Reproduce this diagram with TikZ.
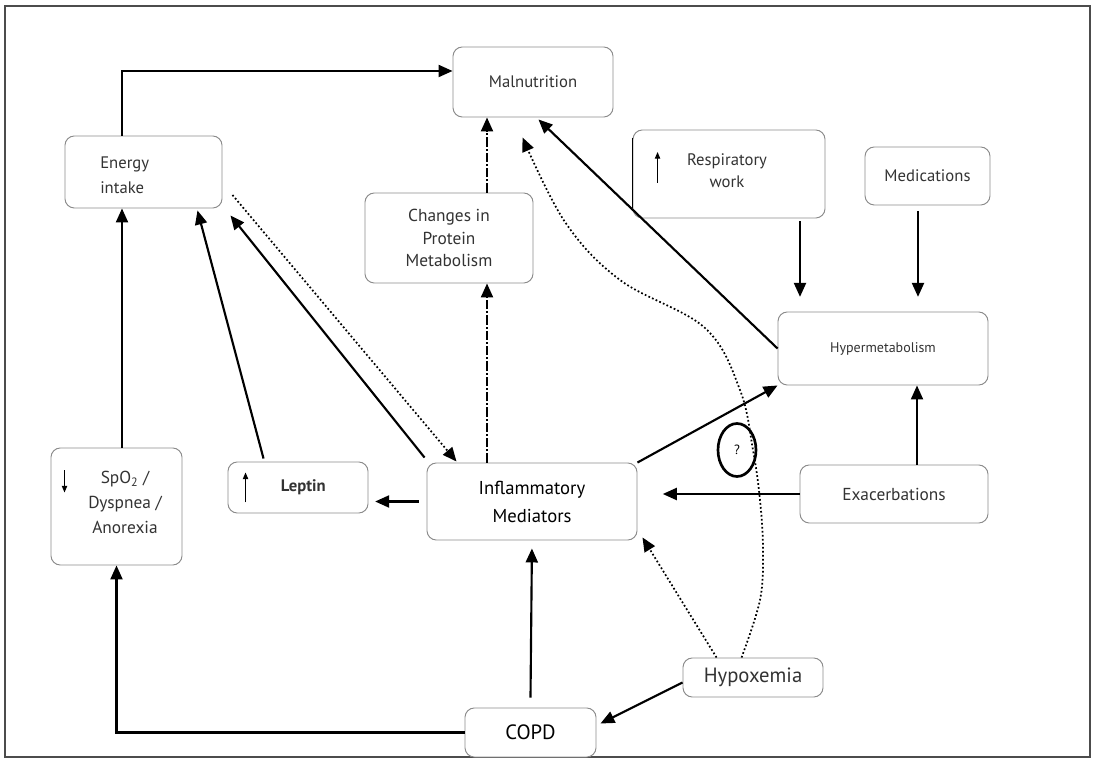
\documentclass[tikz,border=0pt]{standalone}
\usepackage{fontspec}
\setmainfont{PT Sans}
\usetikzlibrary{arrows.meta,calc,shapes.geometric}

\begin{document}
\begin{tikzpicture}[x=0.75pt,y=-0.75pt,
  box/.style={draw=black!45, line width=0.7pt, rounded corners=7pt, fill=white,
              inner sep=2pt, align=center, text=black!80,
              font=\fontsize{12.5}{17}\selectfont},
  txt/.style={inner sep=0pt, text=black!80, font=\fontsize{12.5}{18.75}\selectfont},
  arr/.style={line width=1.6pt, -{Triangle[length=10.5pt,width=9pt]}},
  dotarr/.style={line width=1.3pt, dash pattern=on 1.3pt off 1.7pt,
                 -{Triangle[length=10.5pt,width=9pt]}},
  dasharr/.style={line width=1.6pt, dash pattern=on 7pt off 1.5pt on 1.5pt off 1.5pt,
                  -{Triangle[length=10.5pt,width=9pt]}},
  small/.style={line width=0.8pt, -{Triangle[length=5pt,width=4pt]}},
]
\useasboundingbox (0,0) rectangle (1093,762);
\fill[white] (0,0) rectangle (1093,762);
\draw[black!70, line width=0.9pt] (5,6) rectangle (1090,757);

% ---- boxes ----
\node[box, minimum width=120pt, minimum height=52.5pt] (mal) at (533,82) {Malnutrition};
\node[box, minimum width=117.75pt, minimum height=54pt] (energy) at (143.5,172) {};
\node[txt, align=left, anchor=west] (energyt) at (100,175.5) {Energy\\intake};
\node[box, minimum width=144pt, minimum height=66pt] (resp) at (729,174) {};
\node[txt, align=center, font=\fontsize{12.5}{16.5}\selectfont] (respt) at (727,171) {Respiratory\\work};
\node[box, minimum width=93.75pt, minimum height=43.5pt] (med) at (927.5,176) {Medications};
\node[box, minimum width=126pt, minimum height=67.5pt, font=\fontsize{13}{17}\selectfont] (changes) at (449,238) {Changes in\\Protein\\Metabolism};
\node[box, minimum width=157.5pt, minimum height=54.75pt, font=\fontsize{10.5}{13}\selectfont] (hyper) at (883,348.5) {Hypermetabolism};
\node[box, minimum width=98.25pt, minimum height=87.75pt] (spo2) at (116.5,506.5) {};
\node[txt, align=center, font=\fontsize{13}{18.75}\selectfont] (spo2t) at (125,502) {SpO\textsubscript{2} /\\Dyspnea /\\Anorexia};
\node[box, minimum width=105pt, minimum height=38.25pt, font=\fontsize{12.5}{15}\bfseries] (leptin) at (298,487.5) {\hspace{8pt}Leptin};
\node[box, minimum width=157.5pt, minimum height=57.75pt, text=black, font=\fontsize{14}{21}\selectfont] (inflam) at (532,501.5) {Inflammatory\\Mediators};
\node[box, minimum width=141pt, minimum height=43.5pt, font=\fontsize{13}{16}\selectfont] (exac) at (894,494) {Exacerbations};
\node[box, minimum width=105pt, minimum height=29.25pt, font=\fontsize{15.5}{18}\selectfont] (hypox) at (753,677.5) {Hypoxemia};
\node[box, minimum width=98.25pt, minimum height=36.75pt, text=black, font=\fontsize{15.5}{18}\selectfont] (copd) at (530.5,732.5) {COPD};
\node[ellipse, draw, line width=2pt, minimum width=28.5pt, minimum height=39.75pt,
      inner sep=0pt, font=\fontsize{10}{12}\selectfont] (q) at (737,450) {?};

% dark left side of the respiratory-work box
\draw[line width=1.2pt] ($(resp.north west)+(0,8)$) -- ($(resp.west)+(0,34)$);

% small trend arrows inside boxes
\draw[small] ($(leptin.west)+(18,15)$) -- ($(leptin.west)+(18,-15)$);
\draw[small] ($(spo2.west)+(14,-36)$) -- ($(spo2.west)+(14,-14)$);
\draw[small] ($(resp.west)+(25,9)$) -- ($(resp.west)+(25,-22)$);

% ---- helper x positions for vertical connectors ----
\coordinate (cx) at (487,0);
\coordinate (sx) at (122,0);
\coordinate (rx) at (800,0);
\coordinate (mx) at (918,0);
\coordinate (ex) at (917,0);

% ---- connectors ----
\draw[arr] (energy.north -| sx) |- ($(mal.west)+(0,-11)$);
\draw[dasharr] (changes.north -| cx) -- (mal.south -| cx);
\draw[dasharr] (inflam.north -| cx) -- (changes.south -| cx);
\draw[arr] (hyper.west) -- ($(mal.south east)+(-75,2)$);
\draw[arr, shorten <=2pt, shorten >=11pt] (resp.south -| rx) -- (hyper.north -| rx);
\draw[arr, shorten <=4pt, shorten >=11pt] (med.south -| mx) -- (hyper.north -| mx);
\draw[arr] (exac.north -| ex) -- (hyper.south -| ex);
\draw[arr, shorten >=19pt] (exac.west) -- (inflam.east |- exac.west);
\draw[arr] (inflam.north east) -- (hyper.south west);
\draw[arr, shorten <=6pt, shorten >=5pt] (inflam.west) -- (leptin.east |- inflam.west);
\draw[arr] ($(leptin.north west)+(36,-3)$) -- ($(energy.south east)+(-25,2)$);
\draw[arr] ($(inflam.north west)+(-2,-5)$) -- ($(energy.south east)+(8,7)$);
\draw[dotarr] ($(energy.east)+(10,23)$) -- ($(inflam.north west)+(30,-1)$);
\draw[arr] (spo2.north -| sx) -- (energy.south -| sx);
\draw[arr] (copd.west) -| (spo2.south);
\draw[arr, shorten >=6pt] ($(copd.north)+(0,-10)$) -- (inflam.south);
\draw[arr] ($(hypox.west)+(0,5)$) -- ($(copd.east)+(4,-9)$);
\draw[dotarr] ($(hypox.north west)+(34,0)$) -- ($(inflam.south east)+(5,-3)$);

\coordinate (h2) at ($(hypox.north west)+(59,0)$);
\coordinate (m2) at ($(mal.south west)+(70,20)$);
\draw[dotarr] plot[smooth, tension=0.6] coordinates
  {(h2) (760,600) (763,550) (760,500) (753,450) (740,390) (705,328) (620,280) (565,222) (m2)};
\end{tikzpicture}
\end{document}
